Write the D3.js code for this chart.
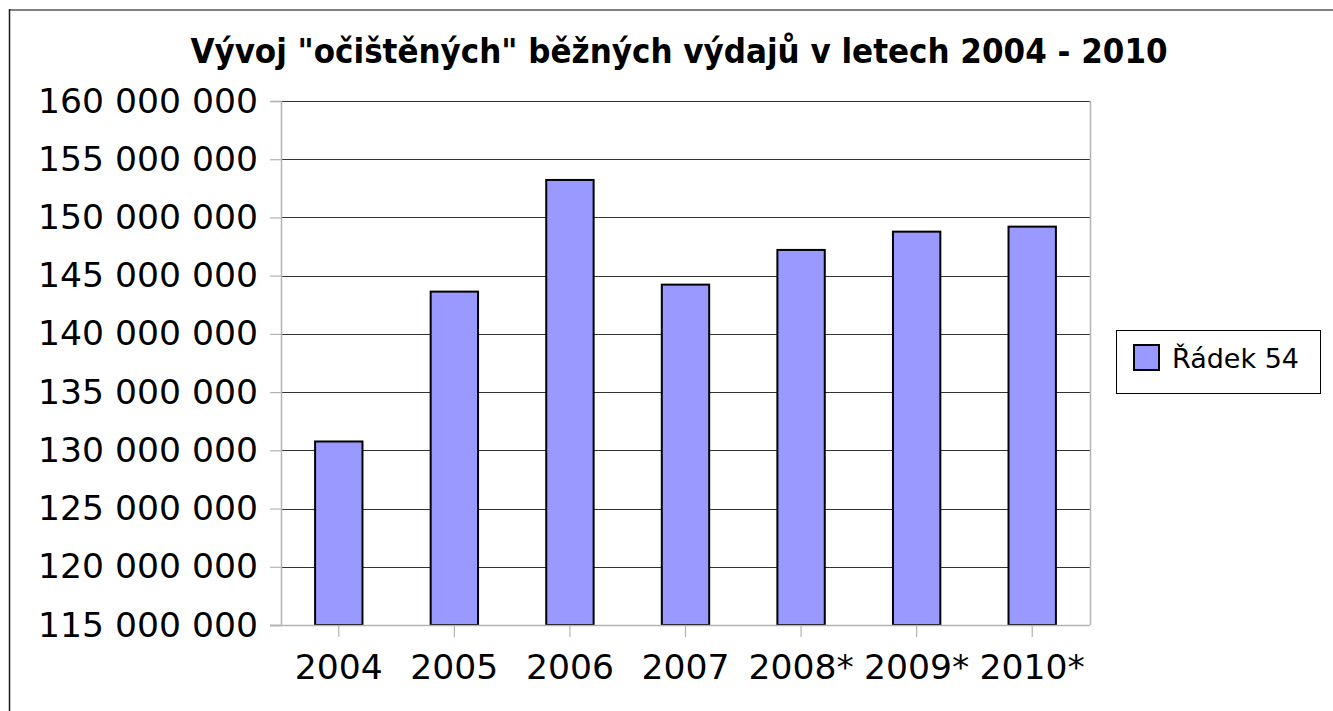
<!DOCTYPE html>
<html>
<head>
<meta charset="utf-8">
<script src="https://cdn.jsdelivr.net/npm/d3@7"></script>
<style>
  html, body { margin: 0; padding: 0; background: #fff; }
  svg { display: block; }
  text { font-family: "DejaVu Sans", Verdana, sans-serif; fill: #000; }
</style>
</head>
<body>
<svg id="chart" width="1333" height="711"></svg>
<script>
const title = 'Vývoj "očištěných" běžných výdajů v letech 2004 - 2010';
const categories = ["2004", "2005", "2006", "2007", "2008*", "2009*", "2010*"];
const values = [130760000, 143630000, 153220000, 144230000, 147210000, 148780000, 149210000];
const seriesName = "Řádek 54";
const yTicks = [115000000, 120000000, 125000000, 130000000, 135000000, 140000000, 145000000, 150000000, 155000000, 160000000];

const svg = d3.select("#chart");
const plot = { left: 281, right: 1090, top: 101, bottom: 625 };

// outer border (top and left visible)
svg.append("line").attr("x1", 9).attr("x2", 1333).attr("y1", 10).attr("y2", 10)
  .attr("stroke", "#808080").attr("stroke-width", 2);
svg.append("line").attr("x1", 9.5).attr("x2", 9.5).attr("y1", 9).attr("y2", 711)
  .attr("stroke", "#1a1a1a").attr("stroke-width", 1.5);

const x = d3.scaleBand().domain(categories).range([plot.left, plot.right])
  .paddingInner(0.59).paddingOuter(0.295);
const y = d3.scaleLinear().domain([115000000, 160000000]).range([plot.bottom, plot.top]);

const fmt = v => d3.format(",")(v).replace(/,/g, " ");

// gridlines
svg.append("g").selectAll("line").data(yTicks.filter(t => t > 115000000)).join("line")
  .attr("x1", plot.left).attr("x2", plot.right)
  .attr("y1", d => Math.round(y(d)) + 0.5).attr("y2", d => Math.round(y(d)) + 0.5)
  .attr("stroke", "#333").attr("stroke-width", 1.2);

// right frame edge
svg.append("line").attr("x1", plot.right + 0.5).attr("x2", plot.right + 0.5)
  .attr("y1", plot.top).attr("y2", plot.bottom).attr("stroke", "#b3b3b3").attr("stroke-width", 1.5);

// y axis
const yAxis = d3.axisLeft(y).tickValues(yTicks).tickFormat(fmt).tickSize(11).tickPadding(12);
const gy = svg.append("g").attr("transform", `translate(${plot.left},0)`).call(yAxis);
gy.select(".domain").attr("stroke", "#b3b3b3").attr("stroke-width", 1.5);
gy.selectAll(".tick line").attr("stroke", "#b3b3b3").attr("stroke-width", 1.2);
gy.selectAll(".tick text").style("font-size", "34.6px").attr("fill", "#000")
  .style("font-family", '"DejaVu Sans", Verdana, sans-serif');

// bars
svg.append("g").selectAll("rect").data(categories).join("rect")
  .attr("x", d => x(d))
  .attr("width", x.bandwidth())
  .attr("y", (d, i) => y(values[i]))
  .attr("height", (d, i) => y(115000000) - y(values[i]))
  .attr("fill", "#9999ff").attr("stroke", "#000").attr("stroke-width", 2);

// x axis
const xAxis = d3.axisBottom(x).tickSize(12).tickPadding(17);
const gx = svg.append("g").attr("transform", `translate(0,${plot.bottom})`).call(xAxis);
gx.select(".domain").attr("d", `M${plot.left - 11},0.5H${plot.right}`).attr("stroke", "#b3b3b3").attr("stroke-width", 1.5);
gx.selectAll(".tick line").attr("stroke", "#b3b3b3").attr("stroke-width", 1.2);
gx.selectAll(".tick text").style("font-size", "34.6px").attr("fill", "#000")
  .style("font-family", '"DejaVu Sans", Verdana, sans-serif');

// title
svg.append("text").attr("x", 679).attr("y", 63).attr("text-anchor", "middle")
  .style("font-family", '"DejaVu Sans Condensed", "DejaVu Sans", sans-serif')
  .style("font-stretch", "condensed")
  .style("font-size", "34.5px").style("font-weight", "bold").text(title);

// legend
const lg = svg.append("g");
lg.append("rect").attr("x", 1116.5).attr("y", 330.5).attr("width", 204).attr("height", 63)
  .attr("fill", "#fff").attr("stroke", "#000").attr("stroke-width", 1);
lg.append("rect").attr("x", 1134).attr("y", 345).attr("width", 25).attr("height", 25)
  .attr("fill", "#9999ff").attr("stroke", "#000").attr("stroke-width", 2);
lg.append("text").attr("x", 1172).attr("y", 368).style("font-size", "27px").text(seriesName);
</script>
</body>
</html>
